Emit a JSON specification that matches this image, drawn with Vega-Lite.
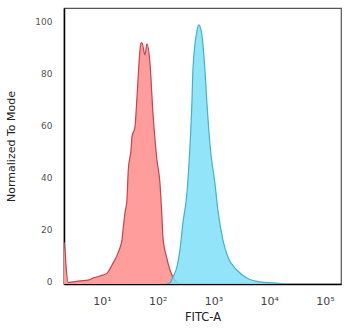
{
  "$schema": "https://vega.github.io/schema/vega-lite/v6.json",
  "width": 277,
  "height": 276,
  "autosize": {"type": "none"},
  "padding": {"left": 64, "top": 8, "right": 9, "bottom": 51},
  "background": "white",
  "config": {
    "view": {"stroke": "#555", "strokeWidth": 1.2},
    "font": "DejaVu Sans"
  },
  "datasets": {
    "red": [
      {"x": 2.08, "y": 16.2}, {"x": 2.17, "y": 13.1}, {"x": 2.26, "y": 7.3}, {"x": 2.46, "y": 0.6},
      {"x": 3.02, "y": 0.8}, {"x": 4.03, "y": 1.2}, {"x": 5.61, "y": 1.5}, {"x": 6.9, "y": 2.3},
      {"x": 9.2, "y": 3.1}, {"x": 12.3, "y": 4.2}, {"x": 15.1, "y": 7.3}, {"x": 19.4, "y": 12.0},
      {"x": 22.8, "y": 17.0}, {"x": 23.8, "y": 20.8}, {"x": 25.8, "y": 27.4}, {"x": 28.0, "y": 32.4},
      {"x": 29.6, "y": 44.0}, {"x": 33.1, "y": 51.7}, {"x": 34.5, "y": 56.8}, {"x": 39.0, "y": 60.6},
      {"x": 42.4, "y": 72.2}, {"x": 48.0, "y": 90.3}, {"x": 50.0, "y": 93.1}, {"x": 52.1, "y": 93.1},
      {"x": 59.0, "y": 88.4}, {"x": 64.0, "y": 92.7}, {"x": 72.5, "y": 85.3}, {"x": 82.0, "y": 66.0},
      {"x": 96.8, "y": 47.9}, {"x": 109.5, "y": 39.0}, {"x": 118.9, "y": 25.9}, {"x": 123.9, "y": 18.1},
      {"x": 144, "y": 10.4}, {"x": 165.6, "y": 5.4}, {"x": 203, "y": 1.5}, {"x": 230, "y": 0.4},
      {"x": 300, "y": 0}
    ],
    "cyan": [
      {"x": 142, "y": 0}, {"x": 165.6, "y": 0.4}, {"x": 187, "y": 2.7}, {"x": 221, "y": 6.6},
      {"x": 250, "y": 13.1}, {"x": 283, "y": 23.6}, {"x": 334, "y": 35.1}, {"x": 378, "y": 52.9},
      {"x": 410, "y": 69.9}, {"x": 428, "y": 82.6}, {"x": 498, "y": 96.9}, {"x": 547, "y": 100},
      {"x": 612, "y": 96.9}, {"x": 702, "y": 82.6}, {"x": 762, "y": 69.9}, {"x": 879, "y": 52.3},
      {"x": 1059, "y": 39.0}, {"x": 1199, "y": 28.6}, {"x": 1474, "y": 17.0}, {"x": 1811, "y": 10.4},
      {"x": 2626, "y": 5.4}, {"x": 3968, "y": 2.3}, {"x": 6792, "y": 0.8}, {"x": 11600, "y": 0.4},
      {"x": 19000, "y": 0}
    ]
  },
  "encoding": {
    "x": {
      "field": "x", "type": "quantitative",
      "scale": {"type": "log", "domain": [2.08, 194000]},
      "axis": {
        "title": "FITC-A", "titleFont": "DejaVu Sans", "titleFontSize": 11.5, "titleFontWeight": "normal",
        "titleColor": "#222", "titlePadding": 5,
        "values": [10, 100, 1000, 10000, 100000],
        "labelExpr": "datum.value == 10 ? '10¹' : datum.value == 100 ? '10²' : datum.value == 1000 ? '10³' : datum.value == 10000 ? '10⁴' : '10⁵'",
        "labelFontSize": 11, "labelColor": "#444", "labelPadding": 11,
        "ticks": false, "grid": false, "domainColor": "#000", "domainWidth": 1.5
      }
    },
    "y": {
      "field": "y", "type": "quantitative",
      "scale": {"domain": [0, 106.5], "nice": false, "zero": true},
      "axis": {
        "title": "Normalized To Mode", "titleFont": "DejaVu Sans", "titleFontSize": 11, "titleFontWeight": "normal",
        "titleColor": "#222", "titlePadding": 18,
        "values": [0, 20, 40, 60, 80, 100],
        "labelFontSize": 9, "labelColor": "#555", "labelPadding": 12, "labelOffset": -3,
        "ticks": false, "grid": false, "domainColor": "#000", "domainWidth": 1.5
      }
    }
  },
  "layer": [
    {"data": {"name": "red"}, "mark": {"type": "area", "color": "#ff9c9c", "opacity": 1, "clip": true, "interpolate": "monotone"}},
    {"data": {"name": "red"}, "mark": {"type": "line", "color": "#c9424c", "strokeWidth": 1.2, "clip": true, "interpolate": "monotone"}},
    {"data": {"name": "cyan"}, "mark": {"type": "area", "color": "#7fe0f8", "opacity": 0.85, "clip": true, "interpolate": "monotone"}},
    {"data": {"name": "cyan"}, "mark": {"type": "line", "color": "#3fb3cc", "strokeWidth": 1.2, "clip": true, "interpolate": "monotone"}}
  ]
}
